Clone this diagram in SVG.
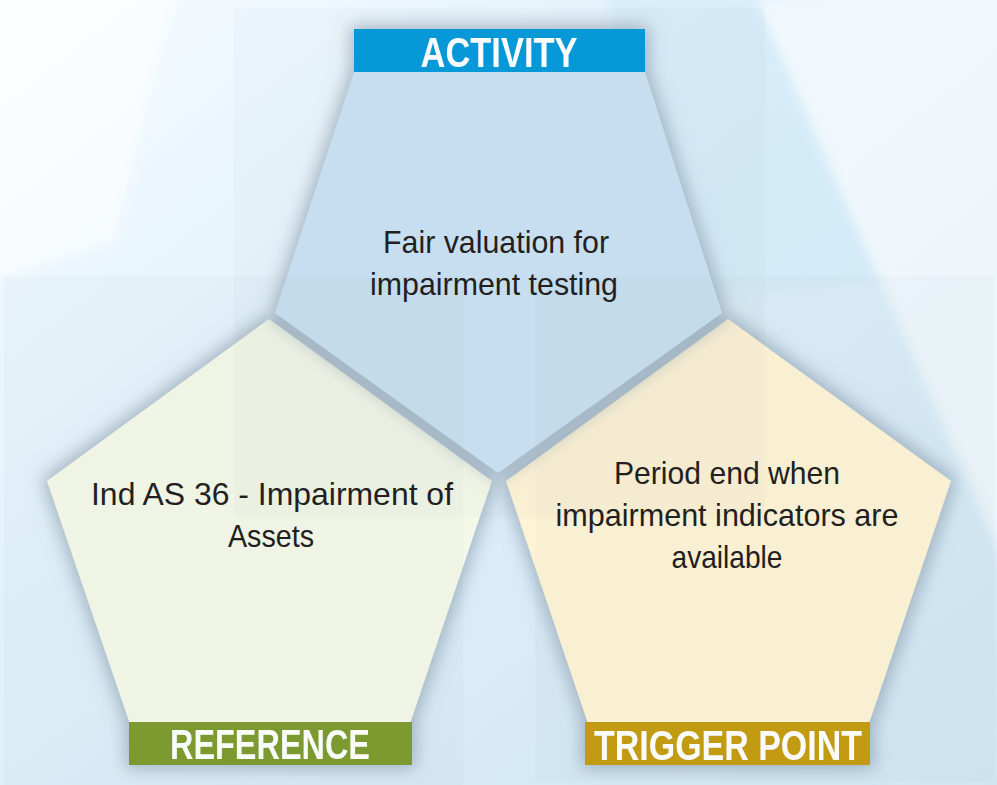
<svg xmlns="http://www.w3.org/2000/svg" width="997" height="785" viewBox="0 0 997 785">
<defs>
  <linearGradient id="bg" x1="0" y1="0" x2="1" y2="1">
    <stop offset="0" stop-color="#f7fcff"/>
    <stop offset="0.4" stop-color="#e0f1fb"/>
    <stop offset="1" stop-color="#cfe5f2"/>
  </linearGradient>
  <filter id="soft" x="-10%" y="-10%" width="120%" height="120%">
    <feGaussianBlur stdDeviation="6"/>
  </filter>
  <filter id="sh" x="-20%" y="-20%" width="140%" height="140%">
    <feMorphology in="SourceAlpha" operator="dilate" radius="3" result="d"/>
    <feGaussianBlur in="d" stdDeviation="9" result="b"/>
    <feFlood flood-color="#77879a" flood-opacity="0.6"/>
    <feComposite in2="b" operator="in" result="s"/>
    <feMerge><feMergeNode in="s"/><feMergeNode in="SourceGraphic"/></feMerge>
  </filter>
  <style>
    .body{font-family:"Liberation Sans Narrow","Liberation Sans",Arial,sans-serif;font-size:32px;fill:#231f20;text-anchor:middle}
    .lab{font-family:"Liberation Sans Narrow","Liberation Sans",Arial,sans-serif;font-weight:bold;font-size:43px;fill:#ffffff;text-anchor:middle}
    .panel{fill:#8597a8;fill-opacity:0.045}
  </style>
</defs>

<!-- background -->
<rect x="0" y="0" width="997" height="785" fill="url(#bg)"/>
<g filter="url(#soft)">
  <polygon points="-20,-20 178,-20 115,240 -20,285" fill="#ffffff" fill-opacity="0.6"/>
  <polygon points="600,-20 757,0 880,280 700,300" fill="#c9e6f7" fill-opacity="0.45"/>
  <polygon points="757,0 1020,-20 1020,600" fill="#ffffff" fill-opacity="0.55"/>
</g>

<g id="connectors"/>

<g id="reference" filter="url(#sh)">
  <polygon points="269,319 492,481 396,765 144,765 47,481" fill="#f4f8e8"/>
  <rect x="129" y="722" width="283" height="43" fill="#7b9a2b"/>
  <text class="lab" x="270" y="759" textLength="200" lengthAdjust="spacingAndGlyphs">REFERENCE</text>
</g>

<g id="trigger" filter="url(#sh)">
  <polygon points="728,319 951,481 855,765 602,765 506,481" fill="#fef3d6"/>
  <rect x="585" y="722" width="285" height="43" fill="#c59b10"/>
  <text class="lab" x="728" y="760" textLength="268" lengthAdjust="spacingAndGlyphs">TRIGGER POINT</text>
</g>

<g id="activity" filter="url(#sh)">
  <polygon points="354,72 645,72 722,313 498,473 275,313" fill="#c9e1f3"/>
  <rect x="354" y="29" width="291" height="43" fill="#0098da"/>
  <text class="lab" x="499" y="67" textLength="157" lengthAdjust="spacingAndGlyphs">ACTIVITY</text>
</g>

<!-- frosted panels -->
<rect class="panel" x="234" y="8" width="531" height="509"/>
<rect class="panel" x="4" y="276" width="459" height="509"/>
<path class="panel" d="M535,276 H994 V771 Q994,781 984,781 H535 Z"/>

<g id="activity-text">
  <text class="body" x="496" y="253" textLength="226" lengthAdjust="spacingAndGlyphs">Fair valuation for</text>
  <text class="body" x="494" y="295" textLength="248" lengthAdjust="spacingAndGlyphs">impairment testing</text>
</g>
<g id="reference-text">
  <text class="body" x="272" y="505" textLength="362" lengthAdjust="spacingAndGlyphs">Ind AS 36 - Impairment of</text>
  <text class="body" x="271" y="547" textLength="86" lengthAdjust="spacingAndGlyphs">Assets</text>
</g>
<g id="trigger-text">
  <text class="body" x="727" y="484" textLength="226" lengthAdjust="spacingAndGlyphs">Period end when</text>
  <text class="body" x="727" y="526" textLength="343" lengthAdjust="spacingAndGlyphs">impairment indicators are</text>
  <text class="body" x="727" y="568" textLength="111" lengthAdjust="spacingAndGlyphs">available</text>
</g>
</svg>
